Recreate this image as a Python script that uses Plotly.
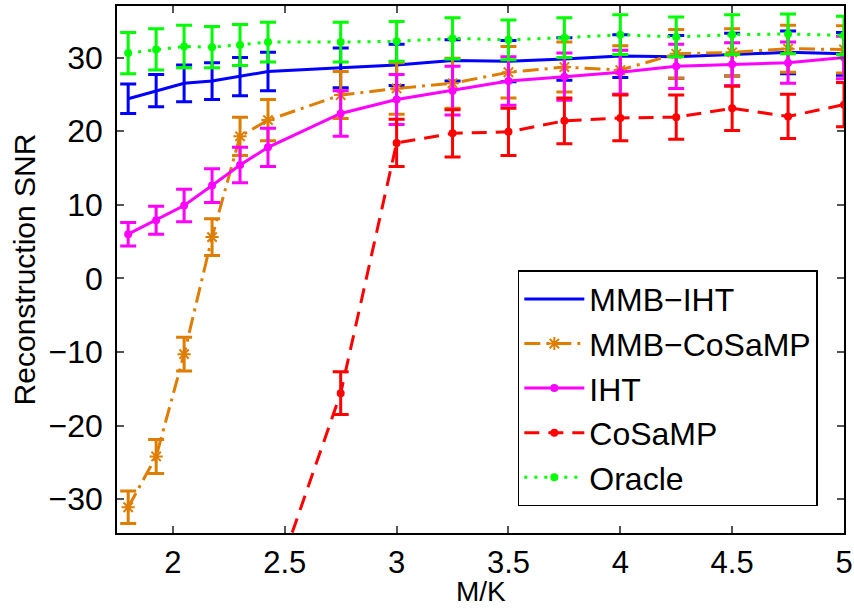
import plotly.graph_objects as go

# M/K sample points
mk = [1.8, 1.925, 2.05, 2.175, 2.3, 2.425, 2.75, 3.0, 3.25, 3.5, 3.75, 4.0, 4.25, 4.5, 4.75, 5.0]

series_names = ["MMB\u2212IHT", "MMB\u2212CoSaMP", "IHT", "CoSaMP", "Oracle"]

mmb_iht = [24.4, 25.5, 26.5, 26.8, 27.4, 28.1, 28.6, 29.0, 29.6, 29.5, 29.8, 30.2, 30.1, 30.4, 30.7, 30.5]
mmb_iht_err = [2.0, 2.2, 2.5, 2.5, 2.6, 2.6, 2.7, 2.8, 2.8, 2.8, 2.9, 2.9, 2.9, 2.9, 2.9, 2.9]

mmb_cosamp = [-31.1, -24.2, -10.3, 5.6, 19.3, 21.5, 24.9, 25.8, 26.5, 28.0, 28.7, 28.3, 30.5, 30.7, 31.2, 31.1]
mmb_cosamp_err = [2.2, 2.3, 2.3, 2.5, 2.6, 2.8, 3.2, 3.5, 3.4, 3.5, 3.4, 3.3, 3.3, 3.2, 3.2, 3.2]

iht = [6.0, 7.9, 9.9, 12.6, 15.4, 17.8, 22.4, 24.3, 25.5, 26.8, 27.4, 28.0, 28.8, 29.1, 29.3, 30.0]
iht_err = [1.6, 1.9, 2.2, 2.3, 2.4, 2.6, 3.1, 3.4, 3.3, 3.3, 3.2, 3.0, 3.0, 2.9, 2.8, 2.9]

cosamp = [-70.0, -66.0, -62.0, -57.0, -51.0, -44.0, -15.6, 18.4, 19.7, 19.9, 21.4, 21.8, 21.9, 23.1, 22.0, 23.6]
cosamp_err = [3.0, 3.0, 3.0, 3.0, 3.0, 3.0, 2.9, 3.2, 3.2, 3.2, 3.1, 3.1, 3.0, 3.0, 3.0, 3.0]

oracle = [30.6, 31.1, 31.5, 31.4, 31.7, 32.1, 32.1, 32.2, 32.6, 32.4, 32.7, 33.1, 32.8, 33.1, 33.2, 33.0]
oracle_err = [2.8, 2.8, 2.9, 2.8, 2.8, 2.7, 2.7, 2.7, 2.8, 2.7, 2.7, 2.7, 2.7, 2.7, 2.7, 2.6]

x_ticks = [2, 2.5, 3, 3.5, 4, 4.5, 5]
x_tick_labels = ["2", "2.5", "3", "3.5", "4", "4.5", "5"]
y_ticks = [-30, -20, -10, 0, 10, 20, 30]
y_tick_labels = ["\u221230", "\u221220", "\u221210", "0", "10", "20", "30"]

x_title = "M/K"
y_title = "Reconstruction SNR"

styles = [
    dict(color="#0000ff", dash="solid", symbol="circle", msize=0),
    dict(color="#de7d00", dash="16px,6px,3px,6px", symbol="asterisk-open", msize=11),
    dict(color="#ff00ff", dash="solid", symbol="circle", msize=6),
    dict(color="#ff0000", dash="15px,9px", symbol="circle", msize=6),
    dict(color="#00ff00", dash="3px,7px", symbol="circle", msize=6),
]

data = [(mmb_iht, mmb_iht_err), (mmb_cosamp, mmb_cosamp_err), (iht, iht_err),
        (cosamp, cosamp_err), (oracle, oracle_err)]

fig = go.Figure()
for name, (vals, errs), st in zip(series_names, data, styles):
    fig.add_trace(go.Scatter(
        x=mk, y=vals, name=name,
        mode="lines+markers" if st["msize"] > 0 else "lines",
        line=dict(color=st["color"], width=3, dash=st["dash"]),
        marker=dict(symbol=st["symbol"], size=st["msize"], color=st["color"],
                    line=dict(color=st["color"], width=2)),
        error_y=dict(type="data", array=errs, visible=True, color=st["color"],
                     thickness=3, width=8),
        cliponaxis=True,
    ))

font_family = "Liberation Sans, Arial, Helvetica, sans-serif"

fig.update_layout(
    width=854, height=609,
    margin=dict(l=117, r=10, t=6, b=76, autoexpand=False),
    paper_bgcolor="white", plot_bgcolor="white",
    font=dict(family=font_family, size=32, color="black"),
    showlegend=True,
    legend=dict(
        x=0.964, y=0.051, xanchor="right", yanchor="bottom",
        bgcolor="white", bordercolor="black", borderwidth=1.5,
        font=dict(size=32, color="black"),
        itemwidth=60, tracegroupgap=0,
    ),
    xaxis=dict(
        range=[1.75, 5.0], tickmode="array", tickvals=x_ticks, ticktext=x_tick_labels,
        ticks="inside", ticklen=7, tickcolor="#555555", tickwidth=1.5,
        showline=True, linecolor="black", linewidth=1.5, mirror="ticks",
        showgrid=False, zeroline=False, automargin=False,
        tickfont=dict(size=31), ticklabelstandoff=1,
    ),
    yaxis=dict(
        range=[-34.6, 37.0], tickmode="array", tickvals=y_ticks, ticktext=y_tick_labels,
        ticks="inside", ticklen=7, tickcolor="#555555", tickwidth=1.5,
        showline=True, linecolor="black", linewidth=1.5, mirror="ticks",
        showgrid=False, zeroline=False, automargin=False,
        tickfont=dict(size=32), ticklabelstandoff=6,
        title=dict(text=y_title, font=dict(size=30), standoff=4),
    ),
    annotations=[dict(
        text=x_title, xref="paper", yref="paper", x=0.5, y=-0.1442,
        xanchor="center", yanchor="bottom", showarrow=False,
        font=dict(size=28, color="black", family=font_family),
    )],
)

fig.write_html("out.html")
